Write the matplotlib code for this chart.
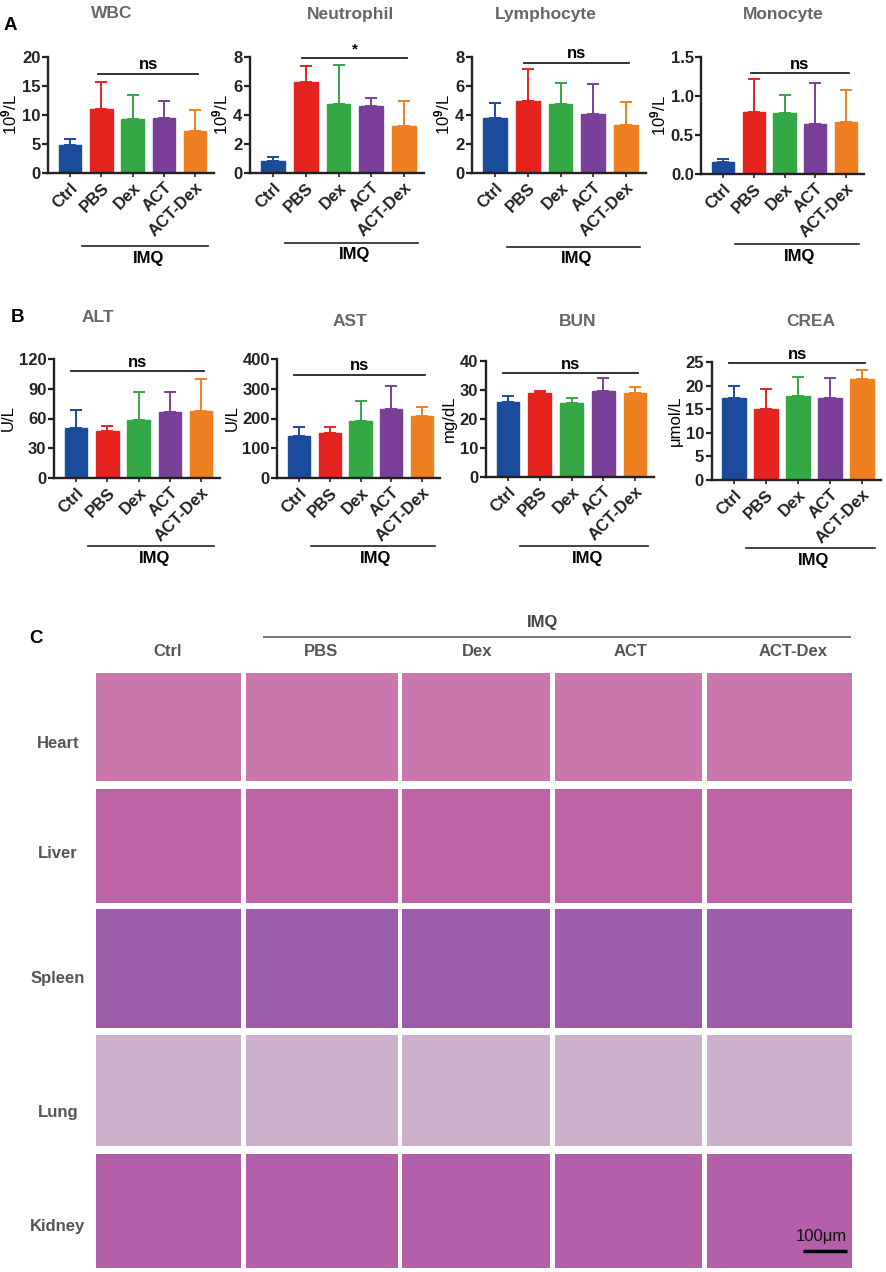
import matplotlib
matplotlib.use('Agg')
import matplotlib.pyplot as plt
import matplotlib.transforms as mtransforms
from matplotlib.patches import Rectangle
import numpy as np

plt.rcParams['font.family'] = ['Liberation Sans', 'DejaVu Sans']
plt.rcParams['font.weight'] = 'bold'
plt.rcParams['mathtext.fontset'] = 'custom'
plt.rcParams['mathtext.rm'] = 'Liberation Sans:bold'
plt.rcParams['mathtext.it'] = 'Liberation Sans:bold'
plt.rcParams['mathtext.bf'] = 'Liberation Sans:bold'

W, H = 886, 1272

# --- data -----------------------------------------------------------------
groups = ['Ctrl', 'PBS', 'Dex', 'ACT', 'ACT-Dex']
colors = ['#1b4b9b', '#e52420', '#33a845', '#7a4099', '#ef8022']

wbc_mean = [4.9, 11.0, 9.3, 9.5, 7.2]
wbc_sd = [0.9, 4.7, 4.1, 2.9, 3.6]
neu_mean = [0.85, 6.25, 4.75, 4.6, 3.25]
neu_sd = [0.25, 1.1, 2.7, 0.6, 1.7]
lym_mean = [3.8, 4.95, 4.75, 4.1, 3.3]
lym_sd = [1.0, 2.2, 1.45, 2.05, 1.6]
mono_mean = [0.15, 0.80, 0.78, 0.64, 0.665]
mono_sd = [0.04, 0.42, 0.23, 0.53, 0.415]

alt_mean = [50.7, 47.0, 58.8, 66.5, 67.6]
alt_sd = [18.3, 5.7, 27.7, 20.3, 32.7]
ast_mean = [142, 152, 191, 233, 207]
ast_sd = [29, 18, 68, 75, 33]
bun_mean = [25.7, 28.8, 25.6, 29.7, 29.0]
bun_sd = [2.3, 0.9, 1.5, 4.3, 1.9]
crea_mean = [17.4, 15.1, 17.8, 17.4, 21.45]
crea_sd = [2.6, 4.2, 4.1, 4.3, 1.95]

organs = ['Heart', 'Liver', 'Spleen', 'Lung', 'Kidney']
organ_colors = ['#c977ac', '#bd63a6', '#9d5caa', '#cdb0cc', '#b45fa9']

fig = plt.figure(figsize=(W / 100, H / 100), dpi=100)
fig.patch.set_facecolor('white')

TICK_FS = 12


def bar_panel(box, title, title_xy, ylabel, mean, sd, ymax, ystep,
              sig, sig_y, sig_x, drop, fmt='{:.0f}'):
    c0, c4, top, bottom = box
    s = (c4 - c0) / 4
    left, right = c0 - 0.7 * s, c4 + 0.6 * s
    ax = fig.add_axes([left / W, 1 - bottom / H, (right - left) / W, (bottom - top) / H])
    h_px = bottom - top

    x = np.arange(len(groups))
    ax.bar(x, mean, width=0.72, color=colors, edgecolor=colors, linewidth=1, zorder=2)
    for i in range(len(groups)):
        ax.errorbar(x[i], mean[i], yerr=[[0], [sd[i]]], fmt='none', ecolor=colors[i],
                    elinewidth=1.4, capsize=4.5, capthick=1.4, zorder=1, clip_on=False)

    ax.set_xlim(-0.7, 4.6)
    ax.set_ylim(0, ymax)
    ticks = np.arange(0, ymax + ystep / 2, ystep)
    ax.set_yticks(ticks)
    ax.set_yticklabels([fmt.format(t) for t in ticks], fontsize=TICK_FS)
    ax.set_xticks(x)
    ax.set_xticklabels(groups, rotation=45, ha='right', rotation_mode='anchor',
                       fontsize=TICK_FS)
    for sp in ['top', 'right']:
        ax.spines[sp].set_visible(False)
    for sp in ['left', 'bottom']:
        ax.spines[sp].set_linewidth(1.7)
        ax.spines[sp].set_color('#222222')
    ax.tick_params(axis='y', length=4, width=1.6, pad=1.5, colors='#222222')
    ax.tick_params(axis='x', length=3, width=1.2, pad=2, colors='#222222')
    ax.set_ylabel(ylabel, fontsize=12, labelpad=2)

    # significance bar
    ax.plot(sig_x, [sig_y, sig_y], color='#222222', lw=1.3, clip_on=False)
    ax.annotate(sig, xy=(np.mean(sig_x), sig_y), xytext=(0, 1), textcoords='offset points',
                ha='center', va='bottom', fontsize=12 if sig == 'ns' else 11)

    # IMQ group line below labels
    trans = mtransforms.blended_transform_factory(ax.transData, ax.transAxes)
    ax.plot([0.38, 4.42], [-drop / h_px] * 2, transform=trans, color='#222222',
            lw=1.2, clip_on=False)
    ax.text(2.5, -(drop + 12) / h_px, 'IMQ', transform=trans, ha='center', va='center',
            fontsize=12)

    fig.text(title_xy[0] / W, 1 - title_xy[1] / H, title, ha='center', va='center',
             color='#666666', fontsize=12.5)
    return ax


ylab_cells = '10$^{9}$/L'
sig_a = [0.9, 4.1]
sig_b = [-0.15, 4.1]

bar_panel((70, 195, 57, 173), 'WBC', (112, 13), ylab_cells, wbc_mean, wbc_sd,
          20, 5, 'ns', 17.1, sig_a, 73)
bar_panel((273, 404, 57, 173), 'Neutrophil', (350, 14), ylab_cells, neu_mean, neu_sd,
          8, 2, '*', 7.95, sig_a, 70)
bar_panel((495, 626, 57, 173), 'Lymphocyte', (546, 15), ylab_cells, lym_mean, lym_sd,
          8, 2, 'ns', 7.6, sig_a, 74)
bar_panel((723, 846, 57, 174), 'Monocyte', (783, 15), ylab_cells, mono_mean, mono_sd,
          1.5, 0.5, 'ns', 1.29, sig_a, 70, fmt='{:.1f}')

bar_panel((76, 201, 359, 478), 'ALT', (98, 318), 'U/L', alt_mean, alt_sd,
          120, 30, 'ns', 107.4, sig_b, 68)
bar_panel((299, 422, 359, 478), 'AST', (350, 322), 'U/L', ast_mean, ast_sd,
          400, 100, 'ns', 347, sig_b, 68)
bar_panel((508, 635, 361, 477), 'BUN', (578, 322), 'mg/dL', bun_mean, bun_sd,
          40, 10, 'ns', 35.9, sig_b, 69)
bar_panel((734, 862, 362, 480), 'CREA', (811, 322), 'μmol/L', crea_mean, crea_sd,
          25, 5, 'ns', 24.7, sig_b, 68)

# --- panel C: tissue grid (pixel coordinates) ------------------------------
axc = fig.add_axes([0, 0, 1, 1], zorder=-1)
axc.set_xlim(0, W)
axc.set_ylim(H, 0)
axc.axis('off')

col_left = [96, 246, 402, 555, 707]
col_right = [241, 398, 550, 702, 852]
row_top = [673, 789, 909, 1035, 1154]
row_bottom = [781, 903, 1028, 1146, 1268]
header_x = [168, 321, 477, 631, 793]
label_y = [743, 854, 979, 1113, 1227]

for r, organ in enumerate(organs):
    for c in range(len(groups)):
        axc.add_patch(Rectangle((col_left[c], row_top[r]), col_right[c] - col_left[c],
                                row_bottom[r] - row_top[r], facecolor=organ_colors[r],
                                edgecolor='none'))
    axc.text(58, label_y[r], organ, ha='center', va='center', color='#555555', fontsize=12)

for c, g in enumerate(groups):
    axc.text(header_x[c], 652, g, ha='center', va='center', color='#555555', fontsize=12)

axc.plot([264, 850], [637, 637], color='#777777', lw=1.4)
axc.text(543, 622, 'IMQ', ha='center', va='center', color='#444444', fontsize=12)

# scale bar
axc.plot([803, 847], [1251, 1251], color='black', lw=2.5, solid_capstyle='butt')
axc.text(821, 1237, '100μm', ha='center', va='center', color='#111111', fontsize=12,
         fontweight='normal')

# panel letters
fig.text(10 / W, 1 - 25 / H, 'A', ha='center', va='center', fontsize=13.5)
fig.text(17 / W, 1 - 318 / H, 'B', ha='center', va='center', fontsize=13.5)
fig.text(36 / W, 1 - 638 / H, 'C', ha='center', va='center', fontsize=13.5)

fig.savefig('out.png', dpi=100, facecolor='white')
